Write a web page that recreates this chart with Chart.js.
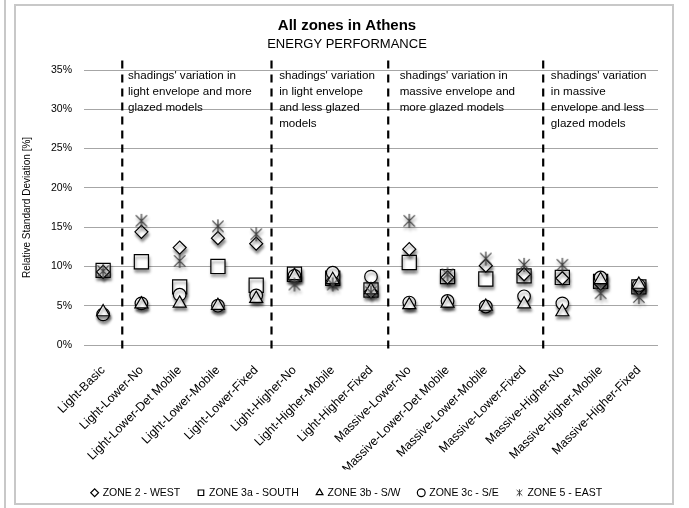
<!DOCTYPE html>
<html lang="en">
<head>
<meta charset="UTF-8">
<title>All zones in Athens</title>
<script src="https://cdn.jsdelivr.net/npm/chart.js"></script>
<style>
  body { margin: 0; background: #fff; }
  .wrap { position: relative; width: 689px; height: 508px; overflow: hidden; }
  .outer-line { position: absolute; left: 4px; top: 0; width: 2px; height: 508px; background: #c8c8c8; }
  .frame { position: absolute; left: 14px; top: 4px; width: 656px; height: 497px; border: 2px solid #c8c8c8; }
  canvas { position: absolute; left: 0; top: 0; }
</style>
</head>
<body>
<div class="wrap">
  <div class="outer-line"></div>
  <div class="frame"></div>
  <canvas id="chart" width="689" height="508"></canvas>
</div>
<script>
// categories (models)
const categories = [
  'Light-Basic', 'Light-Lower-No', 'Light-Lower-Det Mobile', 'Light-Lower-Mobile', 'Light-Lower-Fixed',
  'Light-Higher-No', 'Light-Higher-Mobile', 'Light-Higher-Fixed',
  'Massive-Lower-No', 'Massive-Lower-Det Mobile', 'Massive-Lower-Mobile', 'Massive-Lower-Fixed',
  'Massive-Higher-No', 'Massive-Higher-Mobile', 'Massive-Higher-Fixed'
];

// relative standard deviation [%] per zone
const zone2West   = [9.3, 14.4, 12.4, 13.6, 12.9, 8.9, 8.2, 6.8, 12.2, 8.6, 10.1, 9.0, 8.5, 7.8, 7.2];
const zone3aSouth = [9.5, 10.6, 7.4, 10.0, 7.6, 9.0, 8.5, 7.0, 10.5, 8.7, 8.4, 8.8, 8.6, 8.1, 7.4];
const zone3bSW    = [4.2, 5.2, 5.3, 5.0, 5.9, 8.8, 8.3, 7.0, 5.1, 5.3, 4.9, 5.2, 4.2, 8.3, 7.7];
const zone3cSE    = [3.9, 5.3, 6.4, 5.0, 6.3, 8.8, 9.2, 8.7, 5.4, 5.6, 4.9, 6.2, 5.3, 8.6, 7.6];
const zone5East   = [9.4, 15.8, 10.7, 15.1, 14.1, 7.7, 7.7, 6.7, 15.8, 9.0, 11.0, 10.2, 10.2, 6.6, 6.1];

const yTicks = [0, 5, 10, 15, 20, 25, 30, 35];

// group separators and notes (in category units)
const dividerAt = [0.5, 4.4, 7.45, 11.5];
const noteAt = [0.65, 4.6, 7.75, 11.7];
const notes = [
  ["shadings' variation in", 'light envelope and more', 'glazed models'],
  ["shadings' variation", 'in light envelope', 'and less glazed', 'models'],
  ["shadings' variation in", 'massive envelope and', 'more glazed models'],
  ["shadings' variation", 'in massive', 'envelope and less', 'glazed models']
];

const FONT = "'Liberation Sans', Arial, sans-serif";

function asterisk(size, lw) {
  const c = document.createElement('canvas');
  c.width = c.height = size;
  const g = c.getContext('2d');
  g.strokeStyle = '#3d3d3d';
  g.lineWidth = lw;
  const m = size / 2, r = size / 2 - 1;
  g.beginPath();
  g.moveTo(m - r * 0.8, m - r * 0.8); g.lineTo(m + r * 0.8, m + r * 0.8);
  g.moveTo(m + r * 0.8, m - r * 0.8); g.lineTo(m - r * 0.8, m + r * 0.8);
  g.moveTo(m, m - r); g.lineTo(m, m + r);
  g.stroke();
  return c;
}
const starBig = asterisk(16, 1.2);
const starSmall = asterisk(9, 1);

function series(label, data, style, radius, order) {
  return {
    label: label,
    data: data,
    showLine: false,
    pointStyle: style,
    pointRadius: radius,
    pointHoverRadius: radius,
    pointBackgroundColor: '#fff',
    pointBorderColor: '#000',
    pointBorderWidth: 1.2,
    backgroundColor: '#fff',
    borderColor: '#000',
    borderWidth: 1,
    order: order
  };
}

const shadow = {
  id: 'shadow',
  beforeDatasetsDraw(chart) {
    const ctx = chart.ctx;
    ctx.save();
    ctx.shadowColor = 'rgba(0,0,0,0.45)';
    ctx.shadowBlur = 3;
    ctx.shadowOffsetX = 1;
    ctx.shadowOffsetY = 3;
  },
  afterDatasetsDraw(chart) {
    chart.ctx.restore();
  }
};

const groups = {
  id: 'groups',
  afterDraw(chart) {
    const ctx = chart.ctx, xs = chart.scales.x, ys = chart.scales.y;
    ctx.save();
    ctx.strokeStyle = '#000';
    ctx.lineWidth = 2.2;
    ctx.setLineDash([8, 6]);
    dividerAt.forEach(v => {
      const x = xs.getPixelForValue(v);
      ctx.beginPath();
      ctx.moveTo(x, ys.getPixelForValue(36.2));
      ctx.lineTo(x, ys.getPixelForValue(-1.2));
      ctx.stroke();
    });
    ctx.setLineDash([]);
    ctx.fillStyle = '#000';
    ctx.font = '11.6px ' + FONT;
    ctx.textAlign = 'left';
    ctx.textBaseline = 'middle';
    notes.forEach((lines, i) => {
      const x = xs.getPixelForValue(noteAt[i]);
      const y0 = ys.getPixelForValue(34.2);
      lines.forEach((t, k) => ctx.fillText(t, x, y0 + k * 15.7));
    });
    ctx.restore();
  }
};

new Chart(document.getElementById('chart'), {
  type: 'line',
  data: {
    labels: categories,
    datasets: [
      series('ZONE 2 - WEST', zone2West, 'rectRot', 6.5, 3),
      series('ZONE 3a - SOUTH', zone3aSouth, 'rect', 10, 4),
      series('ZONE 3b - S/W', zone3bSW, 'triangle', 7.5, 1),
      series('ZONE 3c - S/E', zone3cSE, 'circle', 6.3, 2),
      series('ZONE 5 - EAST', zone5East, starBig, 8, 0)
    ]
  },
  options: {
    responsive: false,
    animation: false,
    layout: { padding: { left: 15, right: 10, top: 0, bottom: 0 } },
    plugins: {
      title: {
        display: true,
        text: 'All zones in Athens',
        color: '#000',
        font: { family: FONT, size: 15, weight: 'bold' },
        padding: { top: 17, bottom: 2 }
      },
      subtitle: {
        display: true,
        text: 'ENERGY PERFORMANCE',
        color: '#000',
        font: { family: FONT, size: 13 },
        padding: { top: 0, bottom: 17.4 }
      },
      legend: {
        position: 'bottom',
        labels: {
          usePointStyle: true,
          boxWidth: 5.5,
          boxHeight: 5.5,
          padding: 18,
          color: '#000',
          font: { family: FONT, size: 10.5 },
          sort: (a, b) => a.datasetIndex - b.datasetIndex,
          generateLabels(chart) {
            const items = Chart.defaults.plugins.legend.labels.generateLabels(chart);
            items.forEach(it => { if (it.pointStyle === starBig) it.pointStyle = starSmall; });
            return items;
          }
        }
      },
      tooltip: { enabled: false }
    },
    scales: {
      x: {
        type: 'category',
        offset: true,
        grid: { display: false },
        border: { display: false },
        ticks: {
          autoSkip: false,
          minRotation: 45,
          maxRotation: 45,
          padding: 10,
          color: '#000',
          font: { family: FONT, size: 12.3 }
        },
        afterFit(s) { s.height = 124.5; }
      },
      y: {
        min: 0,
        max: 35,
        afterBuildTicks(s) { s.ticks = yTicks.map(v => ({ value: v })); },
        grid: { color: '#a6a6a6', lineWidth: 1, drawTicks: false },
        border: { display: false },
        ticks: {
          padding: 12,
          color: '#000',
          font: { family: FONT, size: 10.5 },
          callback: v => v + '%'
        },
        title: {
          display: true,
          text: 'Relative Standard Deviation [%]',
          color: '#000',
          font: { family: FONT, size: 10 },
          padding: { top: 6, bottom: 0 }
        },
        afterFit(s) { s.width = 69; }
      },
      y2: {
        position: 'right',
        display: true,
        grid: { display: false },
        border: { display: false },
        ticks: { display: false },
        afterFit(s) { s.width = 21; }
      }
    }
  },
  plugins: [shadow, groups]
});
</script>
</body>
</html>
